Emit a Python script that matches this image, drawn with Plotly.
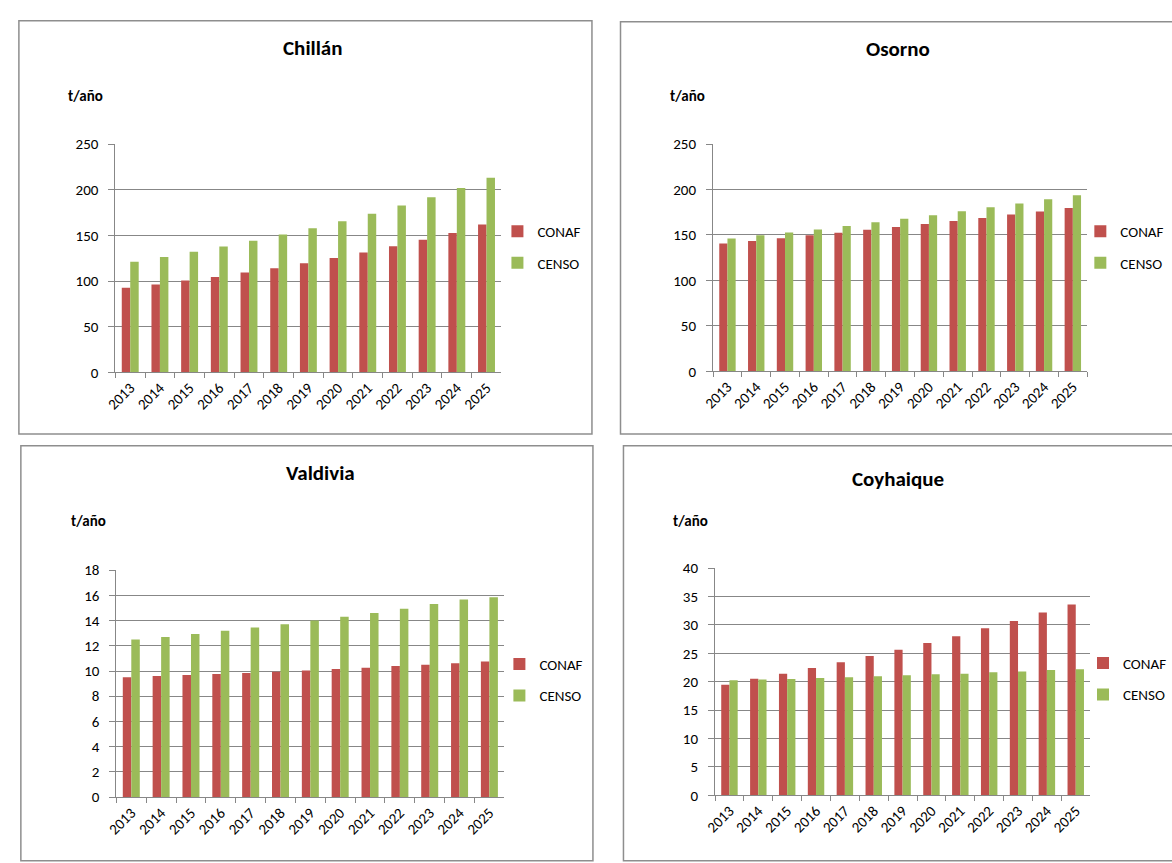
import plotly.graph_objects as go

# ---------------- data ----------------
years = ["2013", "2014", "2015", "2016", "2017", "2018", "2019",
         "2020", "2021", "2022", "2023", "2024", "2025"]

chillan_conaf = [92.6, 96.2, 100.5, 104.4, 109.4, 114.1, 119.5, 125.2, 131.3, 138.0, 145.2, 152.7, 162.0]
chillan_censo = [121.2, 126.3, 132.0, 137.7, 144.1, 150.9, 157.7, 165.6, 173.8, 182.8, 191.7, 202.0, 213.2]

osorno_conaf = [140.6, 143.5, 146.3, 149.6, 152.4, 155.7, 158.9, 162.1, 165.4, 168.6, 172.5, 175.8, 179.7]
osorno_censo = [146.0, 149.6, 152.8, 156.0, 160.0, 163.9, 167.9, 171.8, 176.1, 180.4, 184.7, 189.4, 193.7]

valdivia_conaf = [9.51, 9.61, 9.69, 9.77, 9.85, 9.95, 10.05, 10.15, 10.26, 10.39, 10.49, 10.62, 10.75]
valdivia_censo = [12.49, 12.70, 12.93, 13.19, 13.44, 13.70, 14.01, 14.29, 14.60, 14.94, 15.30, 15.66, 15.84]

coyhaique_conaf = [19.45, 20.5, 21.4, 22.4, 23.4, 24.5, 25.6, 26.8, 28.0, 29.4, 30.7, 32.2, 33.6]
coyhaique_censo = [20.26, 20.37, 20.49, 20.66, 20.78, 20.95, 21.12, 21.30, 21.41, 21.64, 21.81, 22.04, 22.20]

titles = ["Chillán", "Osorno", "Valdivia", "Coyhaique"]
series_names = ["CONAF", "CENSO"]
y_unit = "t/año"
y_max = [250, 250, 18, 40]
y_step = [50, 50, 2, 5]

# ---------------- layout helpers ----------------
W, H = 1172, 863
RED = "#C0504D"
GREEN = "#9BBB59"
GRID = "#878787"
BORDER = "#8E8E8E"
FONT = "Calibri, Carlito, Lato, sans-serif"


def px(x):
    return x / W


def py(y):
    return 1 - y / H


# pixel geometry of each panel (plot area, border box, title, unit label, legend)
geo = [
    dict(plot=(105, 497, 138, 371), box=(7, 589, 12, 434), title=(306, 40), unit=(75, 89), leg=(493, 243)),
    dict(plot=(712, 1092, 138, 370), box=(618, 1180, 13, 434), title=(900, 41), unit=(686, 89), leg=(1085, 243)),
    dict(plot=(106, 500, 573, 805), box=(9, 590, 446, 870), title=(313, 474), unit=(78, 523), leg=(495, 685)),
    dict(plot=(714, 1095, 571, 803), box=(621, 1180, 446, 870), title=(900, 480), unit=(689, 523), leg=(1088, 684)),
]

data = [
    (chillan_conaf, chillan_censo),
    (osorno_conaf, osorno_censo),
    (valdivia_conaf, valdivia_censo),
    (coyhaique_conaf, coyhaique_censo),
]

fig = go.Figure()
layout = dict(
    width=W, height=H,
    margin=dict(l=0, r=0, t=0, b=0),
    paper_bgcolor="white", plot_bgcolor="white",
    barmode="group", bargap=0.43, bargroupgap=0.0,
    font=dict(family=FONT, size=14, color="#000000"),
    hovermode=False,
    shapes=[], annotations=[],
)

for i, (conaf, censo) in enumerate(data):
    n = "" if i == 0 else str(i + 1)
    legname = "legend" if i == 0 else f"legend{i + 1}"
    g = geo[i]
    for name, vals, col in ((series_names[0], conaf, RED), (series_names[1], censo, GREEN)):
        fig.add_trace(go.Bar(
            x=years, y=vals, name=name,
            marker=dict(color=col, line=dict(width=0)),
            xaxis="x" + n, yaxis="y" + n,
            legend=legname, legendgroup=f"{i}{name}",
        ))
    x0, x1, yt, yb = g["plot"]
    layout["xaxis" + n] = dict(
        domain=[px(x0), px(x1)], anchor="y" + n, type="category",
        showgrid=False, showline=True, linecolor=GRID, linewidth=1,
        ticks="outside", tickson="boundaries", ticklen=5, tickcolor=GRID,
        tickangle=-45, tickfont=dict(size=15, family=FONT, color="#000000"),
        fixedrange=True,
    )
    layout["yaxis" + n] = dict(
        domain=[py(yb), py(yt)], anchor="x" + n,
        range=[0, y_max[i]], dtick=y_step[i], tick0=0,
        showgrid=True, gridcolor=GRID, gridwidth=1,
        showline=True, linecolor=GRID, linewidth=1, zeroline=False,
        ticks="outside", ticklen=6, tickcolor=GRID, ticklabelstandoff=7,
        tickfont=dict(size=15, family=FONT, color="#000000"),
        fixedrange=True,
    )
    lx, ly = g["leg"]
    layout[legname] = dict(
        x=px(lx), y=py(ly), xanchor="left", yanchor="middle",
        bgcolor="rgba(0,0,0,0)", borderwidth=0,
        font=dict(size=15, family=FONT, color="#000000"),
        tracegroupgap=9, itemclick=False, itemdoubleclick=False,
    )
    bx0, bx1, by0, by1 = g["box"]
    layout["shapes"].append(dict(
        type="rect", xref="paper", yref="paper",
        x0=px(bx0), x1=px(bx1), y0=py(by1), y1=py(by0),
        line=dict(color=BORDER, width=1.5), fillcolor="rgba(0,0,0,0)", layer="below",
    ))
    tx, ty = g["title"]
    layout["annotations"].append(dict(
        text=f"<b>{titles[i]}</b>", xref="paper", yref="paper",
        x=px(tx), y=py(ty), xanchor="center", yanchor="middle",
        showarrow=False, font=dict(size=21, family=FONT, color="#000000"),
    ))
    ux, uy = g["unit"]
    layout["annotations"].append(dict(
        text=f"<b>{y_unit}</b>", xref="paper", yref="paper",
        x=px(ux), y=py(uy), xanchor="center", yanchor="middle",
        showarrow=False, font=dict(size=15, family=FONT, color="#000000"),
    ))

fig.update_layout(**layout)
fig.write_html("out.html")
